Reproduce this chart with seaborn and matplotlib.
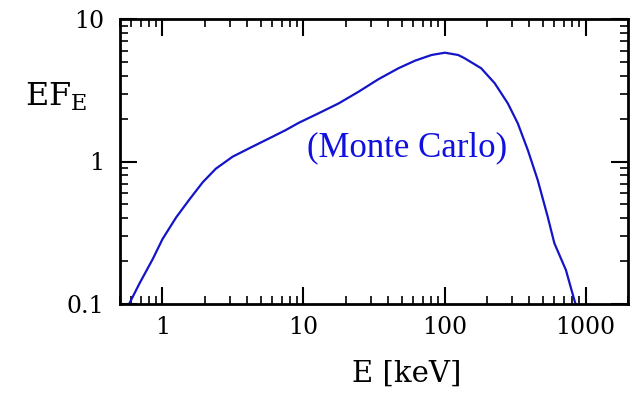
import numpy as np
import pandas as pd
import matplotlib
matplotlib.use("Agg")
import matplotlib.pyplot as plt
import seaborn as sns
from matplotlib.ticker import LogLocator, FixedLocator, FixedFormatter, NullFormatter

# Monte Carlo spectrum: energy (keV) and E*F_E
energy = [0.58, 0.689, 0.854, 1.0, 1.25, 1.55, 1.93, 2.39, 3.14, 4.34, 6.01, 7.47,
          9.27, 12.8, 17.8, 24.6, 34.0, 47.1, 61.8, 80.9, 100.6, 125, 139, 182,
          227, 281, 331, 390, 458, 539, 601, 726, 832, 850]
ef_e = [0.100, 0.140, 0.207, 0.285, 0.405, 0.540, 0.715, 0.890, 1.08, 1.27, 1.49, 1.66,
        1.87, 2.18, 2.56, 3.09, 3.78, 4.51, 5.10, 5.59, 5.80, 5.59, 5.30, 4.51,
        3.54, 2.56, 1.85, 1.20, 0.741, 0.410, 0.267, 0.173, 0.107, 0.100]

x_ticks = [1, 10, 100, 1000]
x_tick_labels = ["1", "10", "100", "1000"]
y_ticks = [0.1, 1, 10]
y_tick_labels = ["0.1", "1", "10"]

line_color = "#1414c8"
text_color = "#1010e0"

sns.set_style("ticks")
plt.rcParams["font.family"] = ["DejaVu Serif"]
plt.rcParams["mathtext.fontset"] = "dejavuserif"

df = pd.DataFrame({"E": energy, "EF": ef_e})

fig = plt.figure(figsize=(6.34, 3.93), dpi=100)
ax = fig.add_axes([120 / 634, 1 - 304 / 393, (628 - 120) / 634, (304 - 19) / 393])

sns.lineplot(data=df, x="E", y="EF", ax=ax, color=line_color, linewidth=1.6,
             estimator=None, sort=False)

ax.set_xscale("log")
ax.set_yscale("log")
ax.set_xlim(0.5, 2000)
ax.set_ylim(0.1, 10)

ax.xaxis.set_major_locator(FixedLocator(x_ticks))
ax.xaxis.set_major_formatter(FixedFormatter(x_tick_labels))
ax.yaxis.set_major_locator(FixedLocator(y_ticks))
ax.yaxis.set_major_formatter(FixedFormatter(y_tick_labels))
ax.xaxis.set_minor_locator(LogLocator(base=10, subs=np.arange(2, 10), numticks=20))
ax.yaxis.set_minor_locator(LogLocator(base=10, subs=np.arange(2, 10), numticks=20))
ax.xaxis.set_minor_formatter(NullFormatter())
ax.yaxis.set_minor_formatter(NullFormatter())

ax.tick_params(which="both", direction="in", top=True, right=True, color="black",
               labelcolor="black", labelsize=17)
ax.tick_params(axis="x", which="major", pad=9)
ax.tick_params(axis="y", which="major", pad=11)
ax.tick_params(which="major", length=12, width=1.5)
ax.tick_params(which="minor", length=6, width=1.2)
for s in ax.spines.values():
    s.set_linewidth(2)
    s.set_color("black")

ax.set_xlabel("E [keV]", fontsize=21, color="black")
ax.xaxis.set_label_coords(0.565, -0.195)
ax.set_ylabel("")
fig.text(25 / 634, 1 - 97 / 393, r"$\mathrm{EF}_{\mathrm{E}}$", fontsize=23,
         ha="left", va="center", color="black")

ax.text(0.565, 0.547, "(Monte Carlo)", transform=ax.transAxes, color=text_color,
        fontsize=25, ha="center", va="center", family=["Liberation Serif"])

fig.savefig("out.png", dpi=100)
